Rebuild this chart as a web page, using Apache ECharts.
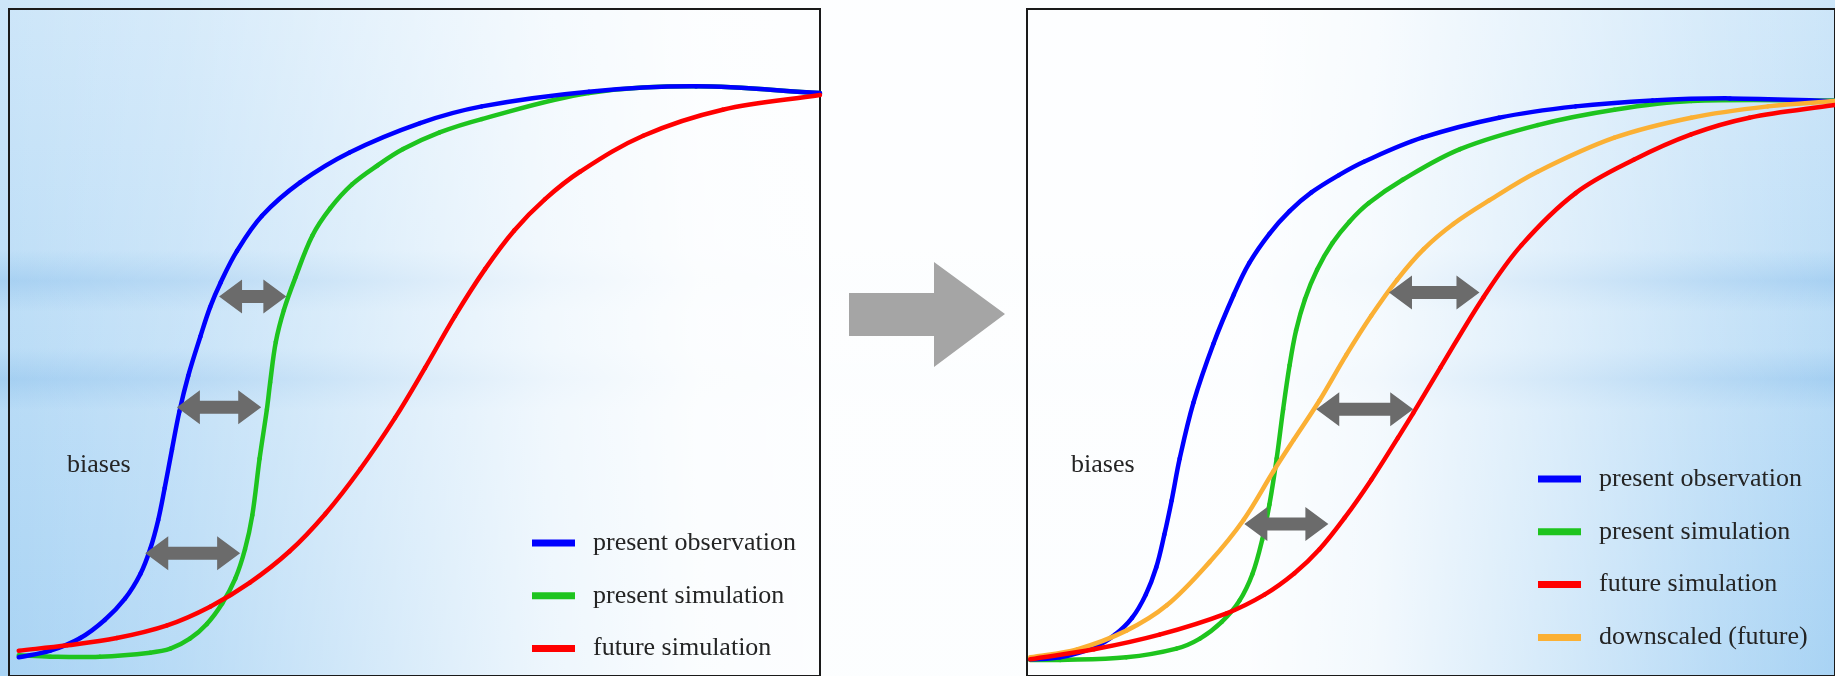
<!DOCTYPE html>
<html>
<head>
<meta charset="utf-8">
<script src="https://cdn.jsdelivr.net/npm/echarts@6/dist/echarts.min.js"></script>
<style>
html,body{margin:0;padding:0;background:#fff;}
#chart{width:1835px;height:676px;}
</style>
</head>
<body>
<div id="chart"></div>
<script>
// ---------- DATA (x: variable, y: cumulative level, both on 0–100 axes) ----------
const legendLeft = ['present observation', 'present simulation', 'future simulation'];
const legendRight = ['present observation', 'present simulation', 'future simulation', 'downscaled (future)'];
const biasLabel = 'biases';

// left panel: present observation / present simulation / future simulation
const obsLeft = [[1.2,2.8],[5.1,3.8],[8.8,5.7],[11.8,8.4],[14.3,11.6],[16.2,15.3],[17.4,19.0],[18.4,23.4],[19.2,28.2],[20.1,34.0],[21.0,39.6],[22.1,45.0],[23.6,50.9],[24.8,55.3],[26.1,59.0],[28.1,63.7],[31.2,69.0],[35.9,74.0],[42.0,78.5],[50.7,82.9],[58.3,85.4],[71.5,87.6],[84.7,88.4],[100,87.4]];
const simLeft = [[1.2,3.1],[5.1,2.9],[11.2,2.9],[17.4,3.5],[19.9,4.1],[22.3,5.6],[24.4,7.8],[26.3,10.9],[27.9,14.6],[29.1,19.0],[30.0,24.1],[30.9,32.6],[31.8,40.0],[32.2,44.0],[32.9,50.1],[33.9,54.9],[35.3,59.7],[37.4,66.0],[39.6,70.1],[42.3,73.7],[45.5,76.6],[48.6,79.0],[53.1,81.5],[58.3,83.5],[71.5,87.4],[84.7,88.4],[100,87.4]];
const futLeft = [[1.2,3.8],[7.2,4.6],[13.3,5.7],[19.5,7.6],[24.8,10.4],[29.7,14.0],[34.6,18.7],[39.0,24.3],[43.3,31.0],[47.6,38.7],[51.3,46.2],[55.0,54.0],[58.7,61.0],[62.3,66.8],[66.1,71.5],[70.4,75.6],[78.2,81.0],[88.0,84.9],[100,87.1]];
// bias arrows: [from x, to x, level]
const biasLeft = [[25.9,34.2,56.9],[20.7,31.1,40.3],[16.8,28.5,18.4]];

// right panel
const obsRight = [[0.4,2.5],[4.1,2.8],[8.3,4.3],[10.9,6.2],[13.0,8.7],[14.7,12.2],[16.0,16.3],[17.0,21.2],[17.9,26.3],[18.9,32.6],[20.6,41.0],[23.1,49.9],[25.6,57.2],[27.5,61.9],[30.0,66.3],[32.5,69.7],[35.2,72.5],[38.6,75.1],[41.7,77.1],[48.9,80.7],[58.4,83.7],[67.9,85.4],[77.4,86.3],[87.0,86.6],[100,86.2]];
const simRight = [[0.4,2.4],[4.1,2.4],[12.3,2.8],[18.5,4.1],[21.4,5.6],[24.1,8.1],[26.3,11.3],[27.9,15.3],[29.1,20.4],[30.0,25.7],[30.9,32.6],[31.7,40.0],[32.5,46.6],[33.3,51.8],[34.4,56.5],[35.9,60.9],[37.8,64.9],[39.9,68.1],[42.3,70.9],[46.5,74.4],[53.6,79.0],[63.2,82.6],[72.7,84.9],[82.2,86.2],[100,86.3]];
const futRight = [[0.4,2.5],[8.3,4.0],[16.4,6.2],[24.7,9.4],[29.4,12.2],[33.1,15.4],[36.2,19.0],[39.3,23.7],[42.6,29.4],[45.9,35.7],[47.8,39.4],[51.2,46.3],[56.5,56.8],[61.2,64.6],[67.9,72.4],[75.1,77.4],[82.2,81.2],[89.4,83.7],[100,85.6]];
const downRight = [[0.4,2.8],[6.2,4.0],[12.3,6.8],[17.3,10.6],[22.6,17.1],[26.8,23.4],[30.5,30.7],[33.0,35.4],[36.2,41.3],[39.5,48.1],[42.6,54.0],[45.8,59.4],[49.1,64.0],[52.8,67.8],[57.2,71.3],[63.2,75.6],[72.7,80.7],[82.2,83.7],[91.7,85.4],[100,86.2]];
const biasRight = [[44.8,56.0,57.5],[35.8,47.8,40.0],[26.9,37.3,22.8]];

// ---------- STYLE ----------
const C_OBS = '#0000ff', C_SIM = '#1ec41e', C_FUT = '#ff0000', C_DOWN = '#fbb034';
const FONT = "'Liberation Serif', 'Times New Roman', serif";
const TEXT_COLOR = '#242424';

const chart = echarts.init(document.getElementById('chart'), null, {renderer: 'canvas'});

function renderArrow(params, api) {
  const lvl = api.value(2);
  const p1 = api.coord([api.value(0), lvl]);
  const p2 = api.coord([api.value(1), lvl]);
  const hl = 23, hh = 17, sh = 6.5;
  const x1 = p1[0], x2 = p2[0], cy = p1[1];
  return {
    type: 'polygon',
    shape: {points: [[x1,cy],[x1+hl,cy-hh],[x1+hl,cy-sh],[x2-hl,cy-sh],[x2-hl,cy-hh],[x2,cy],[x2-hl,cy+hh],[x2-hl,cy+sh],[x1+hl,cy+sh],[x1+hl,cy+hh]]},
    style: {fill: '#6b6b6b'}
  };
}

// smooth curve: each data item draws the cubic segment to the next item (chord-length Catmull-Rom)
function curveSeries(name, data, color, idx, z) {
  return {
    name: name, type: 'custom', xAxisIndex: idx, yAxisIndex: idx, data: data,
    encode: {x: 0, y: 1}, z: z, silent: true, itemStyle: {color: color},
    renderItem: function (params, api) {
      const i = params.dataIndex, n = data.length;
      if (i >= n - 1) return null;
      const P = k => api.coord(data[Math.max(0, Math.min(n - 1, k))]);
      const p0 = P(i - 1), p1 = P(i), p2 = P(i + 1), p3 = P(i + 2);
      const dist = (a, b) => Math.hypot(b[0] - a[0], b[1] - a[1]) || 1e-6;
      const d01 = dist(p0, p1), d12 = dist(p1, p2), d23 = dist(p2, p3);
      const k = 0.36;
      const r1 = k * d12 / (d01 + d12), r2 = k * d12 / (d12 + d23);
      return {
        type: 'bezierCurve',
        shape: {
          x1: p1[0], y1: p1[1], x2: p2[0], y2: p2[1],
          cpx1: p1[0] + (p2[0] - p0[0]) * r1, cpy1: p1[1] + (p2[1] - p0[1]) * r1,
          cpx2: p2[0] - (p3[0] - p1[0]) * r2, cpy2: p2[1] - (p3[1] - p1[1]) * r2
        },
        style: {stroke: color, lineWidth: 4.5, fill: null, lineCap: 'round'}
      };
    }
  };
}

function legendCfg(data, left, top) {
  return {
    data: data, orient: 'vertical', left: left, top: top, padding: 0,
    icon: 'rect', itemWidth: 43, itemHeight: 7, itemGap: 26.8, selectedMode: false,
    textStyle: {fontFamily: FONT, fontSize: 26, lineHeight: 26, color: TEXT_COLOR, padding: [0,0,0,13]}
  };
}

const W = 1835, H = 676;
const bandGrad = () => new echarts.graphic.LinearGradient(0, 0, 0, 1, [
  {offset: 0, color: 'rgba(140,192,236,0)'},
  {offset: 0.5, color: 'rgba(140,192,236,0.45)'},
  {offset: 1, color: 'rgba(140,192,236,0)'}
]);

const option = {
  animation: false,
  backgroundColor: new echarts.graphic.LinearGradient(0, 0, 0, 1, [
    {offset: 0, color: '#cde6f9'}, {offset: 1, color: '#a8d3f4'}
  ]),
  graphic: [
    {type: 'rect', z: -30, silent: true, shape: {x: 0, y: 250, width: W, height: 62}, style: {fill: bandGrad()}},
    {type: 'rect', z: -30, silent: true, shape: {x: 0, y: 348, width: W, height: 62}, style: {fill: bandGrad()}},
    {type: 'rect', z: -20, silent: true, shape: {x: 0, y: 0, width: W, height: H},
      style: {fill: new echarts.graphic.LinearGradient(0, 0, 1, 0, [
        {offset: 0, color: 'rgba(255,255,255,0)'},
        {offset: 0.1, color: 'rgba(255,255,255,0.2)'},
        {offset: 0.2, color: 'rgba(255,255,255,0.5)'},
        {offset: 0.3, color: 'rgba(255,255,255,0.8)'},
        {offset: 0.38, color: 'rgba(255,255,255,0.95)'},
        {offset: 0.45, color: 'rgba(255,255,255,0.97)'},
        {offset: 0.68, color: 'rgba(255,255,255,0.97)'},
        {offset: 0.75, color: 'rgba(255,255,255,0.85)'},
        {offset: 0.85, color: 'rgba(255,255,255,0.5)'},
        {offset: 0.93, color: 'rgba(255,255,255,0.22)'},
        {offset: 1, color: 'rgba(255,255,255,0)'}
      ])}},
    // transition arrow between the panels
    {type: 'polygon', z: 5, silent: true,
      shape: {points: [[849,293],[934,293],[934,262],[1005,314],[934,367],[934,336],[849,336]]},
      style: {fill: '#a5a5a5'}},
    {type: 'text', z: 5, silent: true, left: 67, top: 452,
      style: {text: biasLabel, font: '26px ' + FONT, fill: TEXT_COLOR}},
    {type: 'text', z: 5, silent: true, left: 1071, top: 452,
      style: {text: biasLabel, font: '26px ' + FONT, fill: TEXT_COLOR}}
  ],
  legend: [legendCfg(legendLeft, 532, 530), legendCfg(legendRight, 1538, 466)],
  grid: [
    {left: 9, top: 9, width: 811, height: 680, show: true, borderColor: '#1a1a1a', borderWidth: 2, backgroundColor: 'transparent'},
    {left: 1027, top: 9, width: 810, height: 680, show: true, borderColor: '#1a1a1a', borderWidth: 2, backgroundColor: 'transparent'}
  ],
  xAxis: [0, 1].map(i => ({type: 'value', gridIndex: i, min: 0, max: 100, show: false})),
  yAxis: [0, 1].map(i => ({type: 'value', gridIndex: i, min: 0, max: 100, show: false})),
  series: [
    curveSeries('present simulation', simLeft, C_SIM, 0, 2),
    curveSeries('present observation', obsLeft, C_OBS, 0, 3),
    curveSeries('future simulation', futLeft, C_FUT, 0, 4),
    {type: 'custom', xAxisIndex: 0, yAxisIndex: 0, data: biasLeft, renderItem: renderArrow, encode: {x: [0, 1], y: 2}, z: 6, silent: true},
    curveSeries('present simulation', simRight, C_SIM, 1, 2),
    curveSeries('present observation', obsRight, C_OBS, 1, 3),
    curveSeries('downscaled (future)', downRight, C_DOWN, 1, 4),
    curveSeries('future simulation', futRight, C_FUT, 1, 5),
    {type: 'custom', xAxisIndex: 1, yAxisIndex: 1, data: biasRight, renderItem: renderArrow, encode: {x: [0, 1], y: 2}, z: 6, silent: true}
  ]
};
chart.setOption(option);
</script>
</body>
</html>
